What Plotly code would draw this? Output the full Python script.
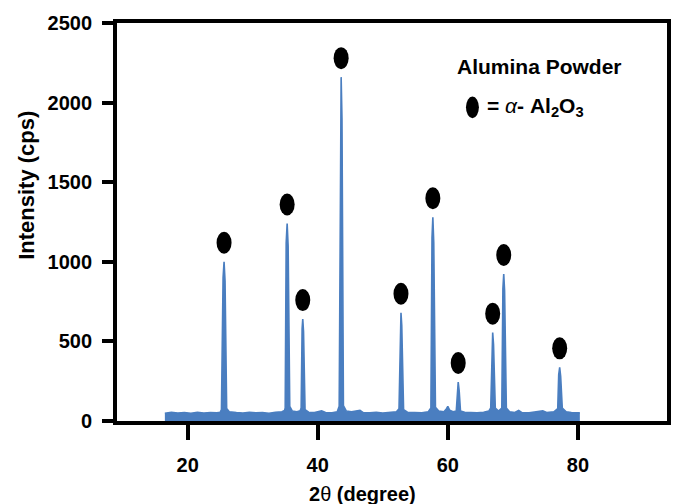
import plotly.graph_objects as go

# ---- data ----
two_theta = [16.5, 17.5, 18.5, 19.5, 20.5, 21.5, 22.5, 23.5, 24.5, 25.0,
             25.2, 25.45, 25.6, 25.75, 26.0, 26.4,
             27.5, 28.5, 29.5, 30.5, 31.5, 32.5, 33.5, 34.5, 34.9,
             35.0, 35.15, 35.3, 35.45, 35.7, 36.1, 36.8, 37.3,
             37.45, 37.6, 37.7, 37.82, 38.05, 38.6, 39.5, 40.6, 41.2, 42.2, 43.0,
             43.3, 43.47, 43.6, 43.73, 43.95, 44.4, 45.2, 46.5, 47.0, 48.0, 49.0, 50.0, 51.0, 52.1,
             52.5, 52.68, 52.8, 52.92, 53.2, 53.8, 55.0, 56.0, 57.0,
             57.4, 57.57, 57.7, 57.84, 58.1, 58.6, 59.4, 59.8, 60.0, 60.3, 60.8, 61.3,
             61.45, 61.6, 61.75, 61.95, 62.6, 63.5, 64.5, 65.5, 66.3,
             66.6, 66.77, 66.9, 67.03, 67.3, 67.8, 68.3,
             68.47, 68.6, 68.73, 69.0, 69.5, 70.3, 70.9, 71.4, 72.5, 73.5, 74.6, 75.2, 76.3, 76.9,
             77.05, 77.2, 77.35, 77.6, 78.2, 79.0, 80.3]
intensity = [48, 55, 50, 53, 49, 54, 50, 53, 51, 55,
             72, 900, 1000, 880, 78, 58,
             53, 50, 55, 51, 53, 49, 54, 58, 66,
             82, 1120, 1240, 1100, 92, 62, 58, 64,
             82, 580, 640, 560, 72, 55, 53, 64, 53, 51, 58,
             92, 1950, 2160, 1900, 97, 62, 58, 67, 53, 51, 55, 50, 53, 58,
             77, 620, 680, 600, 72, 55, 53, 51, 58,
             82, 1150, 1280, 1120, 87, 62, 58, 77, 92, 67, 58, 62,
             200, 245, 190, 62, 55, 53, 51, 55, 62,
             82, 500, 555, 480, 82, 62, 82,
             830, 923, 820, 82, 58, 53, 67, 53, 51, 55, 64, 53, 58, 77,
             290, 337, 280, 82, 58, 53, 51]

# alpha-Al2O3 reflections marked with dots
peak_2theta = [25.6, 35.3, 37.7, 43.6, 52.8, 57.7, 61.6, 66.9, 68.6, 77.2]
peak_intensity = [1000, 1240, 640, 2160, 680, 1280, 245, 555, 923, 337]

y_ticks = [0, 500, 1000, 1500, 2000, 2500]
x_ticks = [20, 40, 60, 80]

blue = "#4A7EC0"
font_family = "Liberation Sans, Arial, sans-serif"

fig = go.Figure()
fig.add_trace(go.Scatter(
    x=two_theta, y=intensity, mode="lines",
    line=dict(color=blue, width=1.6),
    fill="tozeroy", fillcolor=blue,
    hoverinfo="skip", showlegend=False,
))

shapes = []
for px, py in zip(peak_2theta, peak_intensity):
    shapes.append(dict(
        type="circle", xref="x", yref="y",
        xsizemode="pixel", ysizemode="pixel",
        xanchor=px, yanchor=py,
        x0=-7.5, x1=7.5, y0=8, y1=30,
        fillcolor="black", line=dict(color="black", width=0),
    ))
# legend dot
shapes.append(dict(
    type="circle", xref="paper", yref="paper",
    x0=0.6345, x1=0.658, y0=0.7606, y1=0.8155,
    fillcolor="black", line=dict(color="black", width=0),
))

annotations = [
    dict(text="Alumina Powder", xref="paper", yref="paper",
         x=0.769, y=0.890, showarrow=False, xanchor="center", yanchor="middle",
         font=dict(family=font_family, size=21, color="black", weight="bold")),
    dict(text="<b>= </b><i>α</i><b>- Al<sub>2</sub>O<sub>3</sub></b>", xref="paper", yref="paper",
         x=0.669, y=0.788, showarrow=False, xanchor="left", yanchor="middle",
         font=dict(family=font_family, size=21, color="black")),
    dict(text="Intensity (cps)", xref="paper", yref="paper",
         x=-0.1636, y=0.591, showarrow=False, textangle=-90,
         xanchor="center", yanchor="middle",
         font=dict(family=font_family, size=22, color="black", weight="bold")),
    dict(text="<b>2</b>θ<b> (degree)</b>", xref="paper", yref="paper",
         x=0.447, y=-0.1845, showarrow=False, xanchor="center", yanchor="middle",
         font=dict(family=font_family, size=20, color="black")),
]

fig.update_layout(
    width=697, height=504,
    margin=dict(l=117, r=30, t=20, b=83),
    paper_bgcolor="white", plot_bgcolor="white",
    shapes=shapes, annotations=annotations,
    font=dict(family=font_family, size=20, color="black"),
    xaxis=dict(
        range=[9.14, 93.7], tickvals=x_ticks,
        showline=True, linewidth=3.8, linecolor="black", mirror=True,
        ticks="outside", ticklen=15, tickwidth=3.8, tickcolor="black",
        showgrid=False, zeroline=False, ticklabelstandoff=8,
        tickfont=dict(family=font_family, size=20, color="black", weight="bold"),
    ),
    yaxis=dict(
        range=[0, 2500], tickvals=y_ticks,
        showline=True, linewidth=3.8, linecolor="black", mirror=True,
        ticks="outside", ticklen=11, tickwidth=3.8, tickcolor="black",
        showgrid=False, zeroline=False, ticklabelstandoff=6,
        tickfont=dict(family=font_family, size=20, color="black", weight="bold"),
    ),
)

fig.write_html("out.html")
